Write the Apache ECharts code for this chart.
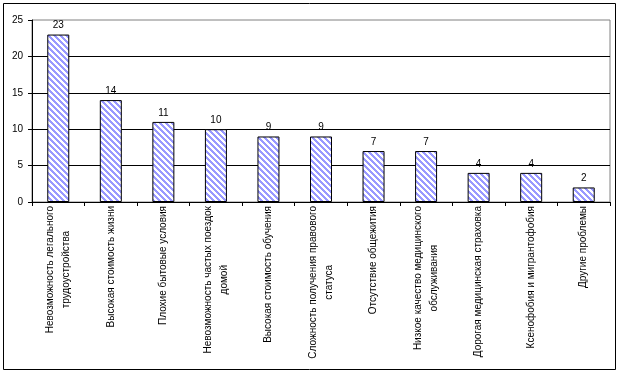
<!DOCTYPE html>
<html>
<head>
<meta charset="utf-8">
<script src="https://cdn.jsdelivr.net/npm/echarts@6/dist/echarts.min.js"></script>
<style>
  html, body { margin: 0; padding: 0; background: #fff; }
  #chart { width: 623px; height: 376px; }
</style>
</head>
<body>
<div id="chart"></div>
<script>
// categories (line breaks as shown under the axis)
var categories = [
  "Невозможность легального\nтрудоустройства",
  "Высокая стоимость жизни",
  "Плохие бытовые условия",
  "Невозможность частых поездок\nдомой",
  "Высокая стоимость обучения",
  "Сложность получения правового\nстатуса",
  "Отсутствие общежития",
  "Низкое качество медицинского\nобслуживания",
  "Дорогая медицинская страховка",
  "Ксенофобия и мигрантофобия",
  "Другие проблемы"
];
var values = [23, 14, 11, 10, 9, 9, 7, 7, 4, 4, 2];
var yTicks = [0, 5, 10, 15, 20, 25];

var FONT = "'Liberation Sans', Arial, sans-serif";

// diagonal stripe fill like the excel pattern
function stripeTile() {
  var n = 6;
  var c = document.createElement("canvas");
  c.width = n;
  c.height = n;
  var ctx = c.getContext("2d");
  ctx.fillStyle = "#ffffff";
  ctx.fillRect(0, 0, n, n);
  ctx.fillStyle = "#9999ff";
  for (var y = 0; y < n; y++) {
    for (var x = 0; x < n; x++) {
      var d = (x - y + 2 * n) % n;
      if (d < 3) ctx.fillRect(x, y, 1, 1);
    }
  }
  return c;
}

var chart = echarts.init(document.getElementById("chart"));
chart.setOption({
  animation: false,
  backgroundColor: "#ffffff",
  textStyle: { fontFamily: FONT },
  graphic: [
    {
      type: "rect",
      shape: { x: 3.5, y: 3.5, width: 612, height: 366 },
      style: { fill: null, stroke: "#000", lineWidth: 1 },
      silent: true
    }
  ],
  grid: {
    left: 32,
    top: 20,
    width: 578,
    height: 182,
    show: true,
    borderColor: "#808080",
    borderWidth: 1,
    backgroundColor: "transparent"
  },
  xAxis: {
    type: "category",
    data: categories,
    axisLine: { show: true, lineStyle: { color: "#000", width: 1 } },
    axisTick: { show: true, length: 4, lineStyle: { color: "#000" } },
    axisLabel: {
      interval: 0,
      rotate: 90,
      margin: 4,
      color: "#000",
      fontSize: 10,
      fontFamily: FONT,
      formatter: function (v) {
        return v.split("\n").map(function (s) { return "{c|" + s + "}"; }).join("\n");
      },
      rich: {
        c: { align: "center", fontSize: 10, lineHeight: 16, color: "#000", fontFamily: FONT }
      }
    }
  },
  yAxis: {
    type: "value",
    min: yTicks[0],
    max: yTicks[yTicks.length - 1],
    interval: 5,
    axisLine: { show: true, lineStyle: { color: "#000", width: 1 } },
    axisTick: { show: true, length: 4, lineStyle: { color: "#000" } },
    axisLabel: { color: "#000", fontSize: 10, margin: 9, fontFamily: FONT },
    splitLine: {
      show: true,
      showMinLine: false,
      showMaxLine: false,
      lineStyle: { color: "#000", width: 1 }
    }
  },
  series: [
    {
      type: "bar",
      data: values,
      barWidth: 22,
      itemStyle: {
        color: { image: stripeTile(), repeat: "repeat" },
        borderColor: "#000",
        borderWidth: 1
      },
      label: {
        show: true,
        position: "top",
        distance: 4,
        color: "#000",
        fontSize: 10,
        fontFamily: FONT
      }
    }
  ]
});
</script>
</body>
</html>
